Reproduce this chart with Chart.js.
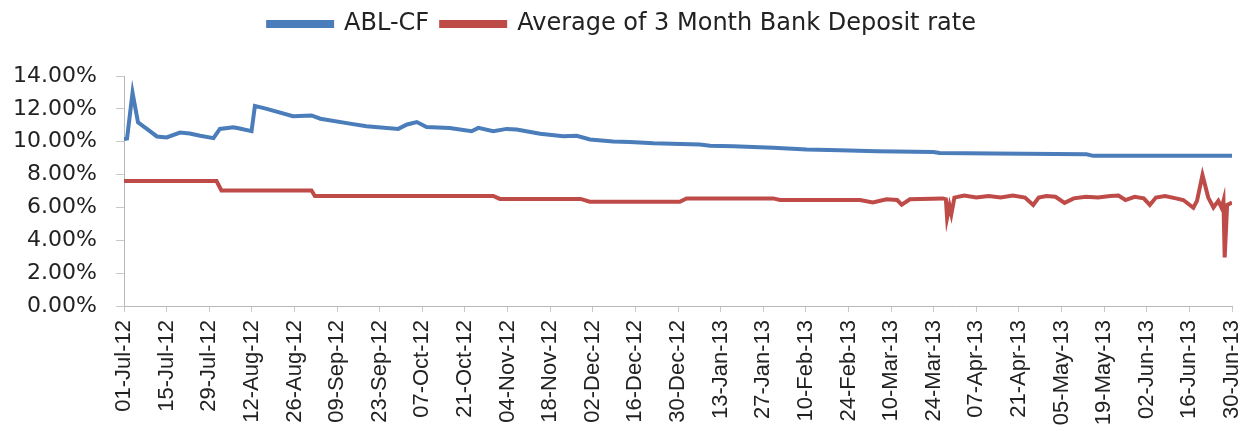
<!DOCTYPE html>
<html>
<head>
<meta charset="utf-8">
<script src="https://cdn.jsdelivr.net/npm/chart.js@4/dist/chart.umd.min.js"></script>
<style>
  body { margin: 0; background: #fff; }
</style>
</head>
<body>
<canvas id="chart" width="1244" height="428"></canvas>
<script>
// day 0 = 01-Jul-12, day 364 = 30-Jun-13
var tickLabels = ['01-Jul-12', '15-Jul-12', '29-Jul-12', '12-Aug-12', '26-Aug-12', '09-Sep-12',
  '23-Sep-12', '07-Oct-12', '21-Oct-12', '04-Nov-12', '18-Nov-12', '02-Dec-12', '16-Dec-12',
  '30-Dec-12', '13-Jan-13', '27-Jan-13', '10-Feb-13', '24-Feb-13', '10-Mar-13', '24-Mar-13',
  '07-Apr-13', '21-Apr-13', '05-May-13', '19-May-13', '02-Jun-13', '16-Jun-13', '30-Jun-13'];

var ablDays = [0, 1, 2.8, 4.6, 7.4, 10.8, 14, 18.4, 21.6, 25, 29.4, 31.5, 35.9, 38, 41.9, 43, 46.9,
  55.5, 61.6, 64.5, 74.2, 79.7, 90.1, 93, 96.2, 99.4, 107, 114.2, 116.4, 121.3, 125.7, 129,
  136.7, 144.3, 148.7, 153.1, 160.7, 166.2, 173.9, 189.2, 192.5, 200.2, 213.3, 224.3, 235.2,
  247.3, 265.9, 268, 285.6, 316.2, 318.4, 364];
var ablValues = [10.17, 10.2, 12.98, 11.18, 10.8, 10.32, 10.26, 10.56, 10.5, 10.36, 10.22, 10.78,
  10.88, 10.8, 10.64, 12.18, 12.0, 11.55, 11.6, 11.4, 11.1, 10.94, 10.78, 11.05, 11.2, 10.9,
  10.84, 10.64, 10.84, 10.64, 10.78, 10.74, 10.48, 10.34, 10.36, 10.14, 10.02, 9.98, 9.9, 9.83,
  9.75, 9.73, 9.63, 9.53, 9.48, 9.42, 9.38, 9.32, 9.28, 9.23, 9.14, 9.14];

var depositDays = [0, 30.4, 32, 61.6, 62.7, 121.3, 123.5, 150, 153, 182.6, 184.8, 213.3, 215.5,
  241.8, 246, 250.5, 254, 255.5, 258.2, 269, 270, 270.4, 271.2, 271.8, 272.8, 276, 280, 284, 288,
  292, 296, 298.7, 300.5, 303, 306, 309, 312, 316, 320, 324, 326.7, 329, 332, 335, 337, 339, 342,
  345.6, 348, 351.3, 352.5, 354.3, 356.2, 357.9, 359.5, 360.6, 361.2, 361.6, 362.4, 364];
var depositValues = [7.61, 7.61, 7.03, 7.03, 6.7, 6.7, 6.52, 6.52, 6.35, 6.35, 6.55, 6.55, 6.45,
  6.45, 6.3, 6.5, 6.45, 6.17, 6.5, 6.55, 6.5, 5.37, 6.1, 5.6, 6.6, 6.72, 6.6, 6.7, 6.6, 6.72, 6.6,
  6.15, 6.6, 6.7, 6.65, 6.28, 6.55, 6.65, 6.6, 6.7, 6.72, 6.45, 6.65, 6.55, 6.15, 6.6, 6.7, 6.55,
  6.45, 5.98, 6.4, 7.97, 6.6, 6.0, 6.4, 5.97, 6.4, 2.96, 6.15, 6.3];

function toPoints(days, values) {
  return days.map(function(d, i) {
    return { x: d, y: values[i] };
  });
}

// give the legend a bit more room below it
var legendSpace = {
  id: 'legendSpace',
  beforeInit: function(chart) {
    var fit = chart.legend.fit;
    chart.legend.fit = function() {
      fit.bind(chart.legend)();
      this.height += 30;
    };
  }
};

var chart = new Chart('chart', {
  type: 'line',
  data: {
    datasets: [
      {
        label: 'ABL-CF',
        data: toPoints(ablDays, ablValues),
        borderColor: '#4A7DBA',
        backgroundColor: '#4A7DBA',
        borderWidth: 4,
        pointRadius: 0,
        fill: false
      },
      {
        label: 'Average of 3 Month Bank Deposit rate',
        data: toPoints(depositDays, depositValues),
        borderColor: '#BE4B48',
        backgroundColor: '#BE4B48',
        borderWidth: 4,
        pointRadius: 0,
        fill: false
      }
    ]
  },
  options: {
    responsive: false,
    animation: false,
    layout: { padding: { left: 0, right: 0, top: 0, bottom: 0 } },
    plugins: {
      legend: {
        position: 'top',
        labels: {
          boxWidth: 64,
          boxHeight: 4,
          padding: 12,
          color: '#222',
          font: { family: 'DejaVu Sans', size: 24 }
        }
      },
      tooltip: { enabled: false }
    },
    scales: {
      x: {
        type: 'linear',
        min: 0,
        max: 364,
        afterFit: function(scale) {
          scale.height = 122;
          scale.paddingRight = 12;
        },
        ticks: {
          stepSize: 14,
          autoSkip: false,
          minRotation: 90,
          maxRotation: 90,
          padding: 8,
          color: '#222',
          font: { family: 'Liberation Sans', size: 22 },
          callback: function(value) {
            return tickLabels[Math.round(value / 14)];
          }
        },
        grid: { drawOnChartArea: false, tickLength: 6, color: '#c8c8c8' },
        border: { color: '#b8b8b8' }
      },
      y: {
        min: 0,
        max: 14,
        afterFit: function(scale) { scale.width = 124; },
        ticks: {
          stepSize: 2,
          padding: 19,
          color: '#222',
          font: { family: 'DejaVu Sans', size: 22 },
          callback: function(value) {
            return value.toFixed(2) + '%';
          }
        },
        grid: { drawOnChartArea: false, tickLength: 8, color: '#c8c8c8' },
        border: { color: '#b8b8b8' }
      }
    }
  },
  plugins: [legendSpace]
});
</script>
</body>
</html>
